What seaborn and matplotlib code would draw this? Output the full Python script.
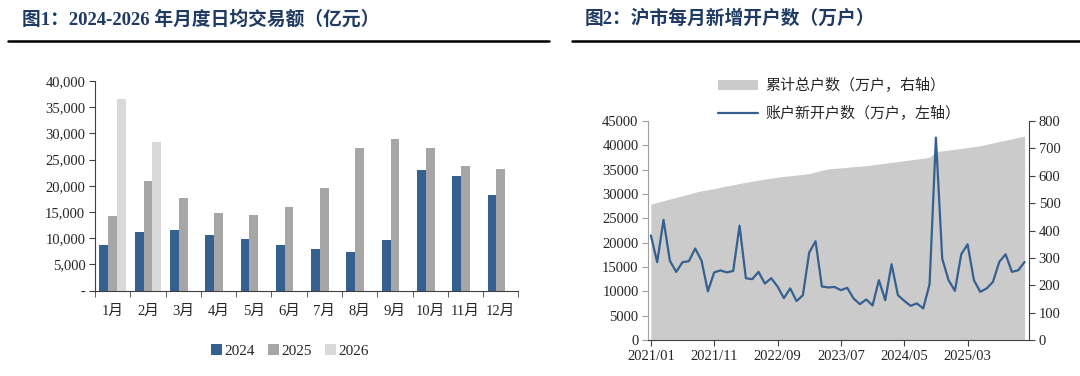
import numpy as np
import pandas as pd
import seaborn as sns
import matplotlib
matplotlib.use("Agg")
import matplotlib.pyplot as plt
from matplotlib.lines import Line2D
from matplotlib.patches import Patch
from matplotlib.ticker import FuncFormatter, MultipleLocator

# ---- chart 1: monthly average daily turnover (亿元)
months = ["1月", "2月", "3月", "4月", "5月", "6月", "7月", "8月", "9月", "10月", "11月", "12月"]
turnover_2024 = [8700, 11250, 11580, 10620, 9800, 8660, 8010, 7320, 9610, 22960, 21820, 18310]
turnover_2025 = [14300, 21000, 17680, 14880, 14380, 15960, 19590, 27220, 28870, 27280, 23730, 23150]
turnover_2026 = [36500, 28420]
years = ["2024", "2025", "2026"]

# ---- chart 2: Shanghai new accounts per month, 2021/01 - 2025/12
new_accounts = [21500, 16000, 24700, 16300, 14000, 16000, 16200, 18800, 16300, 10000, 13900, 14300,
                13900, 14200, 23500, 12700, 12500, 14000, 11600, 12700, 11000, 8600, 10600, 8000,
                9200, 18000, 20300, 11000, 10800, 10900, 10240, 10720, 8540, 7370, 8330, 7100,
                12290, 8190, 15560, 9220, 8060, 7030, 7510, 6490, 11470, 41600, 16720, 12290,
                10100, 17620, 19670, 12290, 9900, 10590, 11940, 16040, 17620, 14000, 14340, 16040]
total_accounts = [496, 503, 509, 515, 521, 527, 533, 540, 545, 549, 553, 558,
                  563, 567, 572, 576, 580, 584, 588, 591, 595, 598, 600, 603,
                  605, 608, 614, 620, 625, 627, 629, 631, 633, 635, 637, 640,
                  643, 646, 649, 652, 655, 658, 661, 664, 668, 688, 691, 694,
                  697, 700, 703, 706, 710, 715, 720, 725, 730, 735, 740, 745]
month_labels = [f"{2021 + i // 12}/{i % 12 + 1:02d}" for i in range(60)]

sns.set_style("white")
plt.rcParams["font.family"] = ["Liberation Serif", "Noto Sans CJK SC", "DejaVu Sans"]
plt.rcParams["axes.unicode_minus"] = False

blue = "#35608F"
gray = "#A6A6A6"
light = "#D9D9D9"
title_color = "#1F3A63"

fig = plt.figure(figsize=(10.8, 3.76), dpi=100)

# ---------------- left chart
rows = []
for m, v in zip(months, turnover_2024):
    rows.append((m, "2024", v))
for m, v in zip(months, turnover_2025):
    rows.append((m, "2025", v))
for m, v in zip(months, turnover_2026):
    rows.append((m, "2026", v))
df1 = pd.DataFrame(rows, columns=["month", "year", "value"])

ax1 = fig.add_axes([0.088, 0.2269, 0.392, 0.5577])
sns.barplot(data=df1, x="month", y="value", hue="year", order=months, hue_order=years,
            palette=[blue, gray, light], saturation=1, width=0.75, linewidth=0,
            legend=False, ax=ax1)
ax1.set_xlim(-0.5, 11.5)
ax1.set_ylim(0, 40000)
ax1.yaxis.set_major_locator(MultipleLocator(5000))
ax1.yaxis.set_major_formatter(FuncFormatter(lambda v, p: "-" if v == 0 else f"{v:,.0f}"))
ax1.set_xlabel("")
ax1.set_ylabel("")
for s in ["top", "right"]:
    ax1.spines[s].set_visible(False)
for s in ["left", "bottom"]:
    ax1.spines[s].set_color("#404040")
    ax1.spines[s].set_linewidth(0.8)
ax1.tick_params(axis="x", which="major", length=0, pad=10, labelsize=10.5)
ax1.xaxis.set_minor_locator(matplotlib.ticker.FixedLocator(np.arange(-0.5, 12, 1)))
ax1.tick_params(axis="x", which="minor", length=4, direction="out", color="#404040", bottom=True)
ax1.tick_params(axis="y", length=4, direction="out", color="#404040", left=True, labelsize=10.5, pad=3)

handles = [Patch(facecolor=c, edgecolor="none", label=y) for c, y in zip([blue, gray, light], years)]
fig.legend(handles=handles, loc="center", bbox_to_anchor=(290 / 1080, 1 - 351 / 376), ncol=3,
           frameon=False, handlelength=0.7, handleheight=0.7, handletextpad=0.15,
           columnspacing=0.9, fontsize=11)

# ---------------- right chart
df2 = pd.DataFrame({"idx": np.arange(60), "new": new_accounts, "total": total_accounts,
                    "month": month_labels})

ax2 = fig.add_axes([0.6003, 0.0957, 0.3525, 0.5824])
ax3 = ax2.twinx()
ax3.fill_between(df2["idx"], 0, df2["total"], color="#CBCBCB", linewidth=0)
ax3.set_ylim(0, 800)
ax3.yaxis.set_major_locator(MultipleLocator(100))
sns.lineplot(data=df2, x="idx", y="new", color=blue, linewidth=1.6, ax=ax2)
ax2.set_zorder(ax3.get_zorder() + 1)
ax2.patch.set_visible(False)
ax2.set_ylim(0, 45000)
ax2.yaxis.set_major_locator(MultipleLocator(5000))
ax2.set_xlim(-0.4, 59.7)
ax2.set_xticks(np.arange(0, 60, 10))
ax2.set_xticklabels([month_labels[i] for i in range(0, 60, 10)])
ax2.set_xlabel("")
ax2.set_ylabel("")
ax3.set_ylabel("")
for a in (ax2, ax3):
    a.spines["top"].set_visible(False)
ax2.spines["right"].set_visible(False)
ax2.spines["left"].set_color("#A0A0A0")
ax2.spines["bottom"].set_color("#404040")
ax3.spines["left"].set_visible(False)
ax3.spines["bottom"].set_visible(False)
ax3.spines["right"].set_color("#404040")
ax2.tick_params(axis="y", length=4, direction="out", color="#A0A0A0", left=True, labelsize=10.5, pad=3)
ax2.tick_params(axis="x", length=4, direction="out", color="#404040", bottom=True, labelsize=10.5, pad=3)
ax3.tick_params(axis="y", length=4, direction="out", color="#404040", right=True, labelsize=10.5, pad=3)

leg_handles = [Patch(facecolor="#CBCBCB", edgecolor="none", label="累计总户数（万户，右轴）"),
               Line2D([0], [0], color=blue, linewidth=1.6, label="账户新开户数（万户，左轴）")]
fig.legend(handles=leg_handles, loc="upper left", bbox_to_anchor=(704 / 1080, 1 - 65 / 376),
           frameon=False, handlelength=2.7, handleheight=0.6, handletextpad=0.5,
           labelspacing=0.85, fontsize=10.8)

# ---------------- titles and rules
fig.text(22 / 1080, 1 - 19 / 376, "图1：2024-2026 年月度日均交易额（亿元）", fontsize=13.5,
         fontweight="bold", color=title_color, va="center", ha="left",
         family=["Liberation Serif", "Noto Sans CJK SC"])
fig.text(585 / 1080, 1 - 19 / 376, "图2：沪市每月新增开户数（万户）", fontsize=13.5,
         fontweight="bold", color=title_color, va="center", ha="left",
         family=["Liberation Serif", "Noto Sans CJK SC"])
y_rule = 1 - 41 / 376
fig.add_artist(Line2D([8 / 1080, 549 / 1080], [y_rule, y_rule], color="black", linewidth=1.8,
                      transform=fig.transFigure))
fig.add_artist(Line2D([572 / 1080, 1.0], [y_rule, y_rule], color="black", linewidth=1.8,
                      transform=fig.transFigure))

fig.savefig("out.png", dpi=100)
